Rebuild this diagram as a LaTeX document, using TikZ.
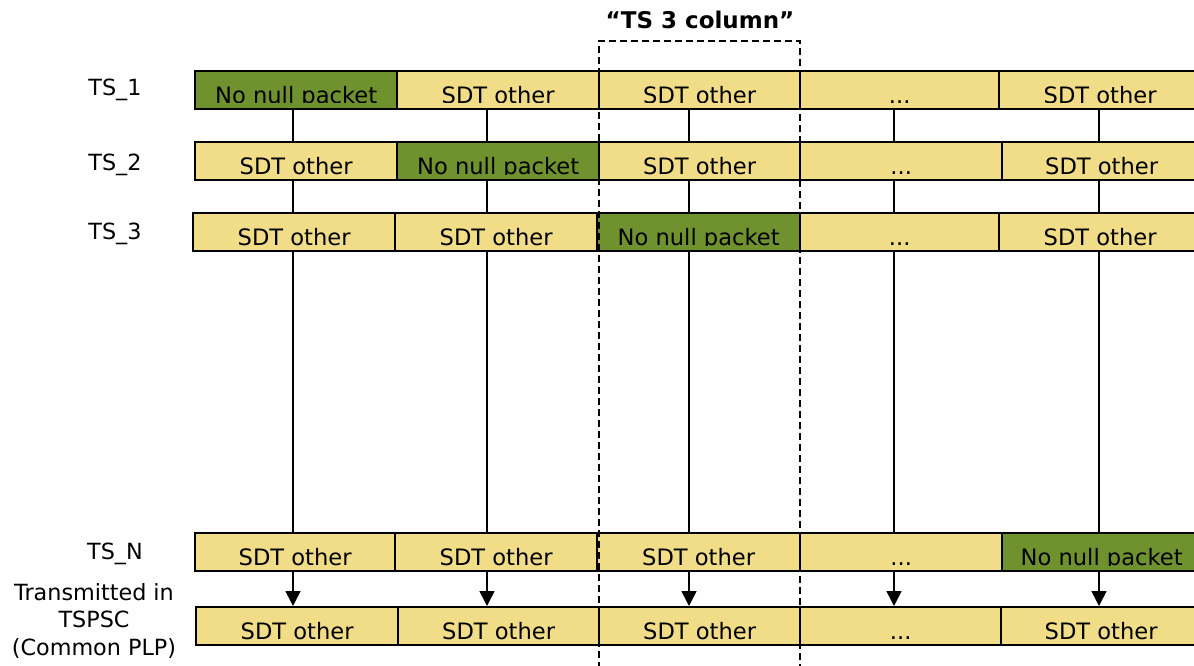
\documentclass[tikz,border=0pt]{standalone}
\usepackage{fontspec}
\setmainfont{DejaVu Sans}
\usetikzlibrary{arrows.meta}
\definecolor{sdty}{RGB}{241,220,135}
\definecolor{nng}{RGB}{111,146,46}
\begin{document}
\begin{tikzpicture}[x=1pt,y=-1pt,
  box/.style={draw=black, line width=2.3pt, inner sep=0pt, anchor=north west, minimum height=38pt, fill=sdty},
  green/.style={fill=nng},
  txt/.style={font=\fontsize{22.6}{26}\selectfont, anchor=base, inner sep=0pt},
  lbl/.style={font=\fontsize{22.3}{27.5}\selectfont, anchor=base, inner sep=0pt, align=center},
  conn/.style={line width=1.6pt, draw=black},
  arr/.style={conn, -{Triangle[width=15pt,length=15pt]}},
  colbox/.style={draw=black, line width=1.8pt, dash pattern=on 7pt off 4pt, inner sep=0pt, anchor=north west, minimum width=201pt, minimum height=660pt}
]
\useasboundingbox (0,0) rectangle (1194,666);
\clip (0,0) rectangle (1194,666);

% column line positions
\coordinate (L1) at (293,0);
\coordinate (L2) at (487,0);
\coordinate (L3) at (689,0);
\coordinate (L4) at (894,0);
\coordinate (L5) at (1099,0);

% Row TS_1
\node[box, green, minimum width=202pt] (r1c1) at (194,70) {};
\node[box, minimum width=202pt] (r1c2) at (396,70) {};
\node[box, minimum width=201pt] (r1c3) at (598,70) {};
\node[box, minimum width=199pt] (r1c4) at (799,70) {};
\node[box, minimum width=202pt] (r1c5) at (998,70) {};
% Row TS_2
\node[box, minimum width=202pt] (r2c1) at (194,141) {};
\node[box, green, minimum width=202pt] (r2c2) at (396,141) {};
\node[box, minimum width=201pt] (r2c3) at (598,141) {};
\node[box, minimum width=202pt] (r2c4) at (799,141) {};
\node[box, minimum width=199pt] (r2c5) at (1001,141) {};
% Row TS_3
\node[box, minimum width=202pt] (r3c1) at (192,212) {};
\node[box, minimum width=202pt] (r3c2) at (394,212) {};
\node[box, green, minimum width=203pt] (r3c3) at (596,212) {};
\node[box, minimum width=199pt] (r3c4) at (799,212) {};
\node[box, minimum width=202pt] (r3c5) at (998,212) {};
% Row TS_N
\node[box, minimum width=200pt] (rNc1) at (194,532) {};
\node[box, minimum width=202pt] (rNc2) at (394,532) {};
\node[box, minimum width=203pt] (rNc3) at (596,532) {};
\node[box, minimum width=202pt] (rNc4) at (799,532) {};
\node[box, green, minimum width=199pt] (rNc5) at (1001,532) {};
% Row Transmitted
\node[box, minimum width=202pt] (rTc1) at (195,606) {};
\node[box, minimum width=201pt] (rTc2) at (397,606) {};
\node[box, minimum width=201pt] (rTc3) at (598,606) {};
\node[box, minimum width=201pt] (rTc4) at (799,606) {};
\node[box, minimum width=200pt] (rTc5) at (1000,606) {};

% texts, clipped slightly below baseline like the original
\begin{scope}
\clip (190,70) rectangle (1194,103);
\node[txt] (t1c1) at ([yshift=7pt]r1c1.south) {No null packet};
\node[txt] (t1c2) at ([yshift=7pt]r1c2.south) {SDT other};
\node[txt] (t1c3) at ([yshift=7pt]r1c3.south) {SDT other};
\node[txt] (t1c4) at ([yshift=7pt]r1c4.south) {...};
\node[txt] (t1c5) at ([yshift=7pt]r1c5.south) {SDT other};
\end{scope}
\begin{scope}
\clip (190,141) rectangle (1194,174);
\node[txt] (t2c1) at ([yshift=7pt]r2c1.south) {SDT other};
\node[txt] (t2c2) at ([yshift=7pt]r2c2.south) {No null packet};
\node[txt] (t2c3) at ([yshift=7pt]r2c3.south) {SDT other};
\node[txt] (t2c4) at ([yshift=7pt]r2c4.south) {...};
\node[txt] (t2c5) at ([yshift=7pt]r2c5.south) {SDT other};
\end{scope}
\begin{scope}
\clip (190,212) rectangle (1194,245);
\node[txt] (t3c1) at ([yshift=7pt]r3c1.south) {SDT other};
\node[txt] (t3c2) at ([yshift=7pt]r3c2.south) {SDT other};
\node[txt] (t3c3) at ([yshift=7pt]r3c3.south) {No null packet};
\node[txt] (t3c4) at ([yshift=7pt]r3c4.south) {...};
\node[txt] (t3c5) at ([yshift=7pt]r3c5.south) {SDT other};
\end{scope}
\begin{scope}
\clip (190,532) rectangle (1194,565);
\node[txt] (tNc1) at ([yshift=7pt]rNc1.south) {SDT other};
\node[txt] (tNc2) at ([yshift=7pt]rNc2.south) {SDT other};
\node[txt] (tNc3) at ([yshift=7pt]rNc3.south) {SDT other};
\node[txt] (tNc4) at ([yshift=7pt]rNc4.south) {...};
\node[txt] (tNc5) at ([yshift=7pt]rNc5.south) {No null packet};
\end{scope}
\begin{scope}
\clip (190,606) rectangle (1194,639);
\node[txt] (tTc1) at ([yshift=7pt]rTc1.south) {SDT other};
\node[txt] (tTc2) at ([yshift=7pt]rTc2.south) {SDT other};
\node[txt] (tTc3) at ([yshift=7pt]rTc3.south) {SDT other};
\node[txt] (tTc4) at ([yshift=7pt]rTc4.south) {...};
\node[txt] (tTc5) at ([yshift=7pt]rTc5.south) {SDT other};
\end{scope}

% connectors
\foreach \c in {1,...,5}{
  \draw[conn] (r1c\c.south -| L\c) -- (r2c\c.north -| L\c);
  \draw[conn] (r2c\c.south -| L\c) -- (r3c\c.north -| L\c);
  \draw[conn] (r3c\c.south -| L\c) -- (rNc\c.north -| L\c);
  \draw[arr] (rNc\c.south -| L\c) -- (rTc\c.north -| L\c);
}

% "TS 3 column" dashed frame
\node[colbox] (col3) at (598,40) {};
\node[font=\bfseries\fontsize{23}{28}\selectfont, anchor=base, inner sep=0pt] (title) at (700,29) {“TS 3 column”};

% row labels
\node[lbl] (l1) at (115,96) {TS\_1};
\node[lbl] (l2) at (115,170) {TS\_2};
\node[lbl] (l3) at (115,239) {TS\_3};
\node[lbl] (lN) at (115,559) {TS\_N};
\node[lbl] (lT) at (94,655) {Transmitted in\\TSPSC\\(Common PLP)};
\end{tikzpicture}
\end{document}
